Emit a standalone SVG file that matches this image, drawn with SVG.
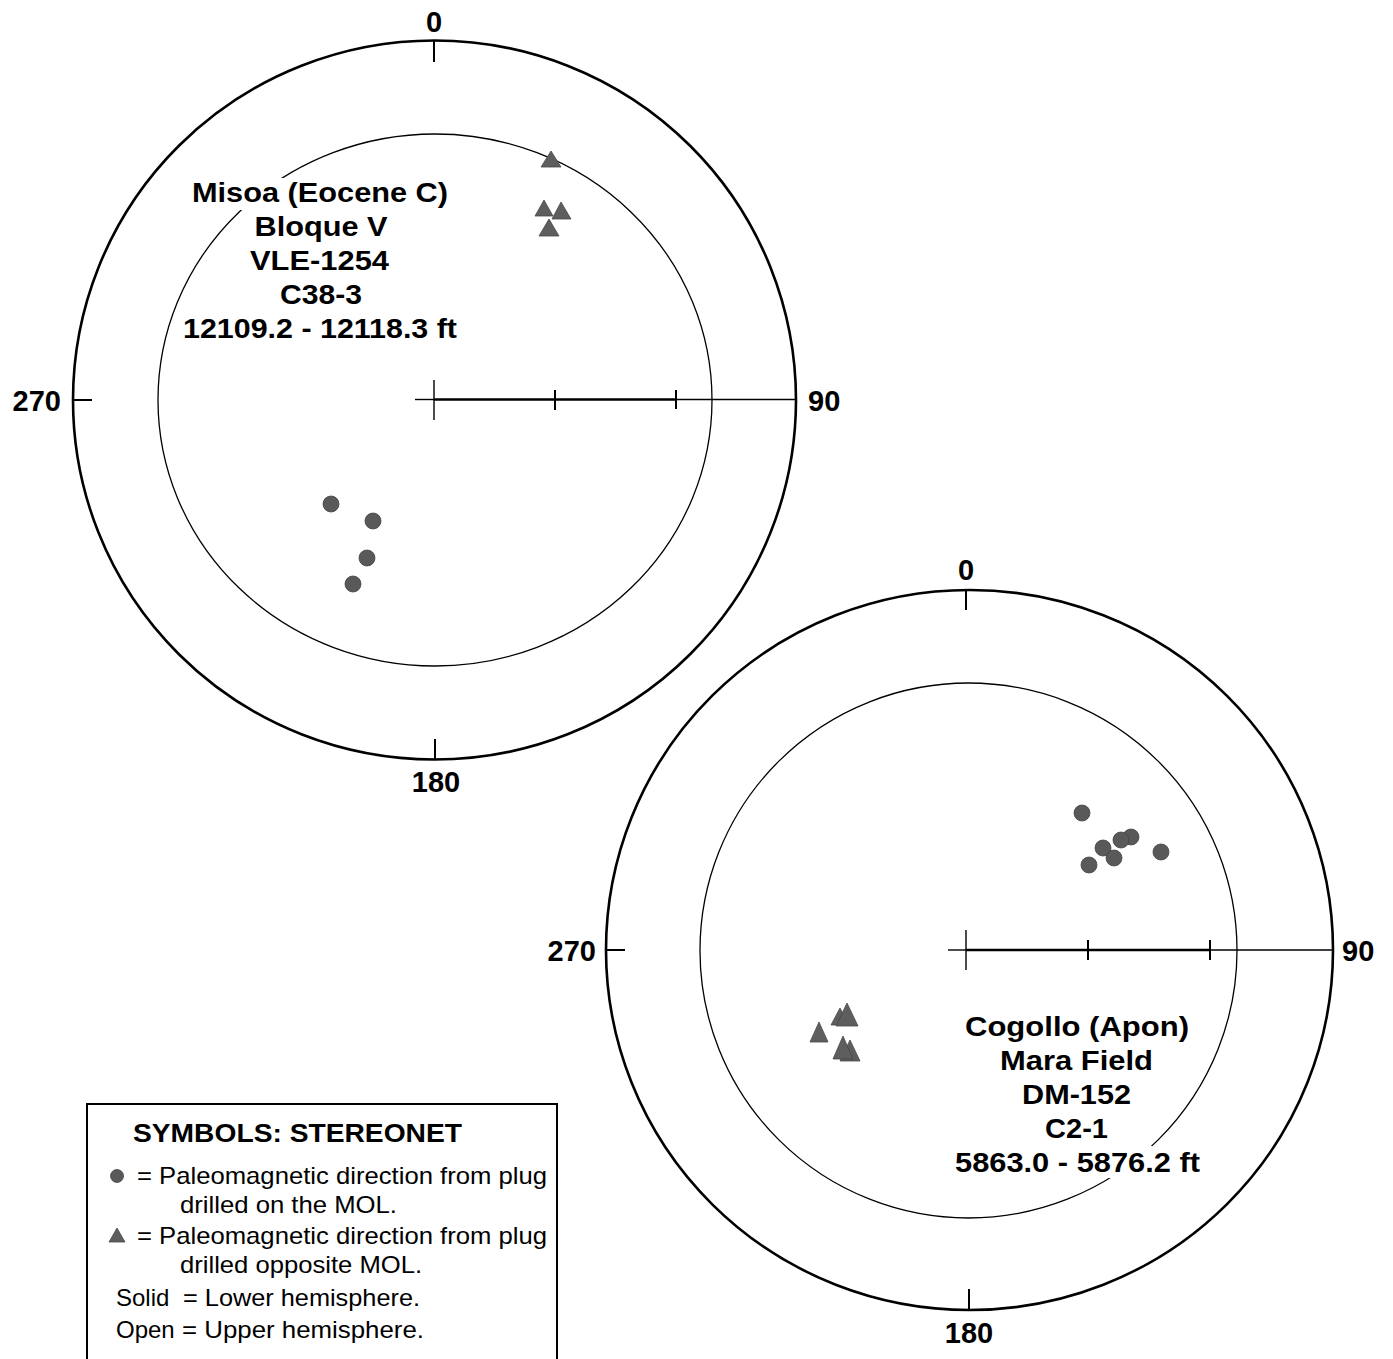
<svg xmlns="http://www.w3.org/2000/svg" width="1393" height="1359" viewBox="0 0 1393 1359">
<style>
.outer{fill:none;stroke:#000;stroke-width:2.6}
.inner{fill:none;stroke:#000;stroke-width:1.3}
.axis{stroke:#000;stroke-width:2.6}
.axthin{stroke:#000;stroke-width:1.4}
.tick{stroke:#000;stroke-width:2}
.deg{font-family:"Liberation Sans",Arial,sans-serif;font-weight:bold;font-size:29px;fill:#000}
.title{font-family:"Liberation Sans",Arial,sans-serif;font-weight:bold;font-size:28.5px;fill:#000;text-anchor:middle}
.leg{font-family:"Liberation Sans",Arial,sans-serif;font-size:24px;fill:#000}
.legb{font-family:"Liberation Sans",Arial,sans-serif;font-weight:bold;font-size:25px;fill:#000}
.dot{fill:#595959;stroke:#444;stroke-width:0.8}
.tri{fill:#5e5e5e;stroke:#484848;stroke-width:0.8}
.mask{fill:#fff;stroke:none}
</style>

<g id="stereonet1">
<ellipse class="outer" cx="434.5" cy="400" rx="361.5" ry="359.5"/>
<ellipse class="inner" cx="435" cy="400" rx="277" ry="266"/>
<line class="tick" x1="434" y1="40" x2="434" y2="62"/>
<line class="tick" x1="435" y1="739" x2="435" y2="760"/>
<line class="tick" x1="73" y1="400" x2="92" y2="400"/>
<line class="axthin" x1="415" y1="399.5" x2="434" y2="399.5"/>
<line class="axis" x1="434" y1="399.5" x2="677" y2="399.5"/>
<line class="axthin" x1="677" y1="399.5" x2="796" y2="399.5"/>
<line class="axthin" x1="434" y1="380" x2="434" y2="420"/>
<line class="tick" x1="555" y1="390" x2="555" y2="410"/>
<line class="tick" x1="676" y1="390" x2="676" y2="409"/>
<text class="deg" x="434" y="32" text-anchor="middle">0</text>
<text class="deg" x="61" y="411" text-anchor="end">270</text>
<text class="deg" x="808" y="411">90</text>
<text class="deg" x="436" y="792" text-anchor="middle">180</text>
<rect class="mask" x="190" y="178" width="262" height="32"/>
<text class="title" x="320" y="202" textLength="256" lengthAdjust="spacingAndGlyphs">Misoa (Eocene C)</text>
<text class="title" x="321" y="236" textLength="133" lengthAdjust="spacingAndGlyphs">Bloque V</text>
<text class="title" x="319.5" y="270" textLength="139" lengthAdjust="spacingAndGlyphs">VLE-1254</text>
<text class="title" x="321" y="304" textLength="82" lengthAdjust="spacingAndGlyphs">C38-3</text>
<text class="title" x="320" y="338" textLength="274" lengthAdjust="spacingAndGlyphs">12109.2 - 12118.3 ft</text>
<circle class="dot" cx="331" cy="504" r="8"/>
<circle class="dot" cx="373" cy="521" r="8"/>
<circle class="dot" cx="367" cy="558" r="8"/>
<circle class="dot" cx="353" cy="584" r="8"/>
<polygon class="tri" points="551,151 561,167 541,167"/>
<polygon class="tri" points="544,200 553,216 535,216"/>
<polygon class="tri" points="561,202 571,219 552,219"/>
<polygon class="tri" points="549,219 559,236 539,236"/>
</g>

<g id="stereonet2">
<ellipse class="outer" cx="969.5" cy="950" rx="363.5" ry="360"/>
<ellipse class="inner" cx="968.5" cy="950.5" rx="268.5" ry="267.5"/>
<line class="tick" x1="966" y1="590" x2="966" y2="610"/>
<line class="tick" x1="969" y1="1289" x2="969" y2="1310"/>
<line class="tick" x1="606" y1="950" x2="625" y2="950"/>
<line class="axthin" x1="948" y1="950" x2="966" y2="950"/>
<line class="axis" x1="966" y1="950" x2="1211" y2="950"/>
<line class="axthin" x1="1211" y1="950" x2="1333" y2="950"/>
<line class="axthin" x1="966" y1="930" x2="966" y2="970"/>
<line class="tick" x1="1088" y1="940" x2="1088" y2="960"/>
<line class="tick" x1="1210" y1="940" x2="1210" y2="960"/>
<text class="deg" x="966" y="580" text-anchor="middle">0</text>
<text class="deg" x="596" y="961" text-anchor="end">270</text>
<text class="deg" x="1342" y="961">90</text>
<text class="deg" x="969" y="1343" text-anchor="middle">180</text>
<rect class="mask" x="952" y="1146" width="252" height="32"/>
<text class="title" x="1077" y="1036" textLength="224" lengthAdjust="spacingAndGlyphs">Cogollo (Apon)</text>
<text class="title" x="1076.5" y="1070" textLength="153" lengthAdjust="spacingAndGlyphs">Mara Field</text>
<text class="title" x="1076.5" y="1104" textLength="109" lengthAdjust="spacingAndGlyphs">DM-152</text>
<text class="title" x="1076.5" y="1138" textLength="63" lengthAdjust="spacingAndGlyphs">C2-1</text>
<text class="title" x="1077.5" y="1172" textLength="245" lengthAdjust="spacingAndGlyphs">5863.0 - 5876.2 ft</text>
<circle class="dot" cx="1082" cy="813" r="8"/>
<circle class="dot" cx="1161" cy="852" r="8"/>
<circle class="dot" cx="1089" cy="865" r="8"/>
<circle class="dot" cx="1103" cy="848" r="8"/>
<circle class="dot" cx="1114" cy="858" r="8"/>
<circle class="dot" cx="1131" cy="837" r="8"/>
<circle class="dot" cx="1121" cy="840" r="8"/>
<polygon class="tri" points="840,1008 849,1025 831,1025"/>
<polygon class="tri" points="847,1003 858,1026 836,1026"/>
<polygon class="tri" points="819,1022 828,1042 810,1042"/>
<polygon class="tri" points="850,1040 860,1061 840,1061"/>
<polygon class="tri" points="843,1036 853,1059 833,1059"/>
</g>

<g id="legend">
<rect x="87" y="1104" width="470" height="280" fill="#fff" stroke="#000" stroke-width="2"/>
<text class="legb" x="133" y="1142" textLength="329" lengthAdjust="spacingAndGlyphs">SYMBOLS: STEREONET</text>
<circle class="dot" cx="117" cy="1176" r="6.5"/>
<text class="leg" x="137" y="1184" textLength="410" lengthAdjust="spacingAndGlyphs">= Paleomagnetic direction from plug</text>
<text class="leg" x="180" y="1213" textLength="217" lengthAdjust="spacingAndGlyphs">drilled on the MOL.</text>
<polygon class="tri" points="117,1228 125,1242 109,1242"/>
<text class="leg" x="137" y="1244" textLength="410" lengthAdjust="spacingAndGlyphs">= Paleomagnetic direction from plug</text>
<text class="leg" x="180" y="1273" textLength="242" lengthAdjust="spacingAndGlyphs">drilled opposite MOL.</text>
<text class="leg" x="116" y="1306"><tspan>Solid</tspan><tspan x="183" textLength="237" lengthAdjust="spacingAndGlyphs">= Lower hemisphere.</tspan></text>
<text class="leg" x="116" y="1338"><tspan>Open</tspan><tspan x="182" textLength="242" lengthAdjust="spacingAndGlyphs">= Upper hemisphere.</tspan></text>
</g>
</svg>
